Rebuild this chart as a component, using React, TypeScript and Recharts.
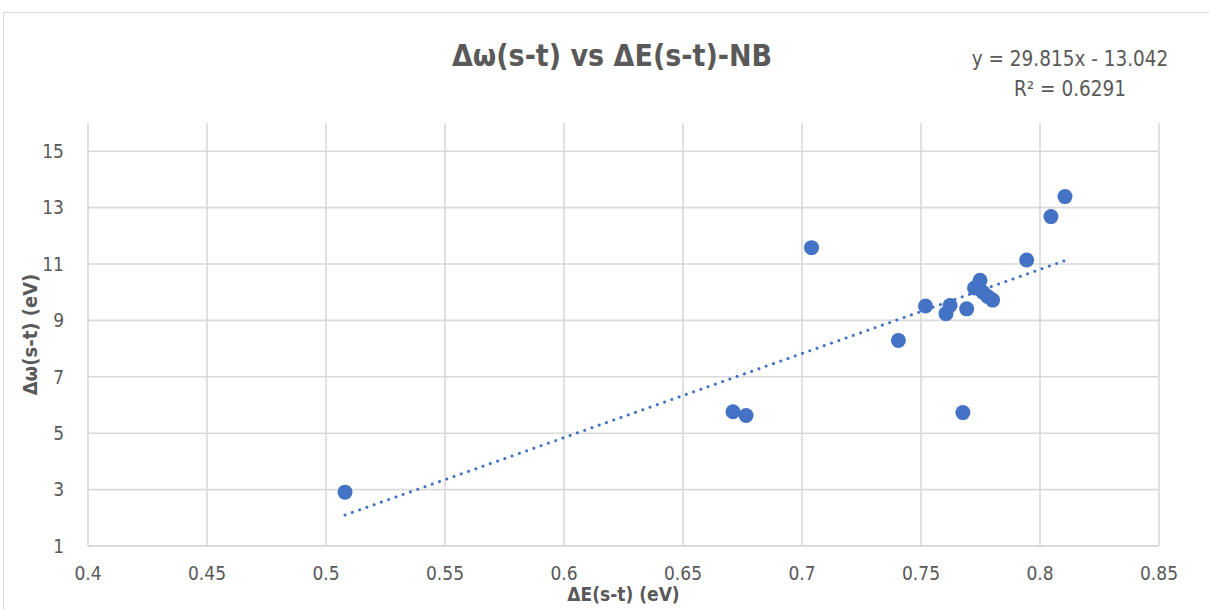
import React from 'react';
import { ScatterChart, Scatter, XAxis, YAxis, CartesianGrid, Label } from 'recharts';

// ΔE(s-t) (eV) values
const deltaE = [
  0.508, 0.671, 0.6765, 0.704, 0.7405, 0.7519, 0.7605, 0.7622, 0.7676, 0.7692,
  0.7725, 0.7748, 0.776, 0.778, 0.7801, 0.7944, 0.8046, 0.8105,
];
// Δω(s-t) (eV) values, same order
const deltaW = [
  2.91, 5.76, 5.63, 11.58, 8.29, 9.51, 9.24, 9.53, 5.73, 9.41,
  10.15, 10.42, 10.0, 9.85, 9.72, 11.14, 12.68, 13.39,
];

// end points of the linear trendline
const trendX = [0.508, 0.8105];
const trendY = [2.1, 11.12];

const xTicks = [0.4, 0.45, 0.5, 0.55, 0.6, 0.65, 0.7, 0.75, 0.8, 0.85];
const yTicks = [1, 3, 5, 7, 9, 11, 13, 15];

const points = deltaE.map((x, i) => ({ x, y: deltaW[i] }));
const trend = trendX.map((x, i) => ({ x, y: trendY[i] }));

const BLUE = '#4472C4';
const GREY = '#595959';
const FONT = '"Liberation Sans Narrow", "DejaVu Sans Condensed", "Liberation Sans", sans-serif';

const App: React.FC = () => {
  return (
    <div style={{ position: 'fixed', left: 0, top: 0, width: 1209, height: 609, overflow: 'hidden', background: '#fff', fontFamily: FONT }}>
      <div style={{ position: 'absolute', left: 3, top: 12, width: 1240, height: 640, border: '1px solid #d9d9d9' }} />
      <div style={{ position: 'absolute', left: 0, top: 0 }}>
        <ScatterChart width={1209} height={609} margin={{ left: 48, right: 50, top: 123, bottom: 23 }}>
          <CartesianGrid stroke="#d9d9d9" strokeWidth={1.6} horizontalValues={yTicks} verticalValues={xTicks} />
          <XAxis
            type="number"
            dataKey="x"
            domain={[0.4, 0.85]}
            ticks={xTicks}
            interval={0}
            height={40}
            tickLine={false}
            axisLine={{ stroke: '#d9d9d9', strokeWidth: 1.6 }}
            tickSize={0}
            tickMargin={21}
            tick={{ fill: GREY, fontSize: 19, fontFamily: FONT }}
          >
            <Label value="ΔE(s-t) (eV)" position="insideBottom" offset={-15} style={{ fill: GREY, fontSize: 19, fontWeight: 'bold', fontFamily: FONT }} />
          </XAxis>
          <YAxis
            type="number"
            dataKey="y"
            domain={[1, 16]}
            ticks={yTicks}
            interval={0}
            width={40}
            tickLine={false}
            axisLine={false}
            tickSize={0}
            tickMargin={24}
            tick={{ fill: GREY, fontSize: 19, fontFamily: FONT }}
          >
            <Label value="Δω(s-t) (eV)" angle={-90} position="insideLeft" offset={-18} style={{ fill: GREY, fontSize: 20, fontWeight: 'bold', fontFamily: FONT, textAnchor: 'middle' }} />
          </YAxis>
          <Scatter
            data={trend}
            isAnimationActive={false}
            line={{ stroke: BLUE, strokeWidth: 3, strokeDasharray: '0.1 7.6', strokeLinecap: 'round' }}
            shape={() => null}
          />
          <Scatter data={points} fill={BLUE} isAnimationActive={false} shape={(p: any) => <circle cx={p.cx} cy={p.cy} r={7.5} fill={BLUE} />} />
        </ScatterChart>
      </div>
      <div style={{ position: 'absolute', left: 0, width: 1224, top: 38, textAlign: 'center', fontSize: 30, fontWeight: 'bold', color: GREY, lineHeight: '36px' }}>
        Δω(s-t) vs ΔE(s-t)-NB
      </div>
      <div style={{ position: 'absolute', left: 960, width: 220, top: 44, textAlign: 'center', fontSize: 20.5, color: GREY, lineHeight: '30px' }}>
        y = 29.815x - 13.042
        <br />
        R² = 0.6291
      </div>
    </div>
  );
};

export default App;
